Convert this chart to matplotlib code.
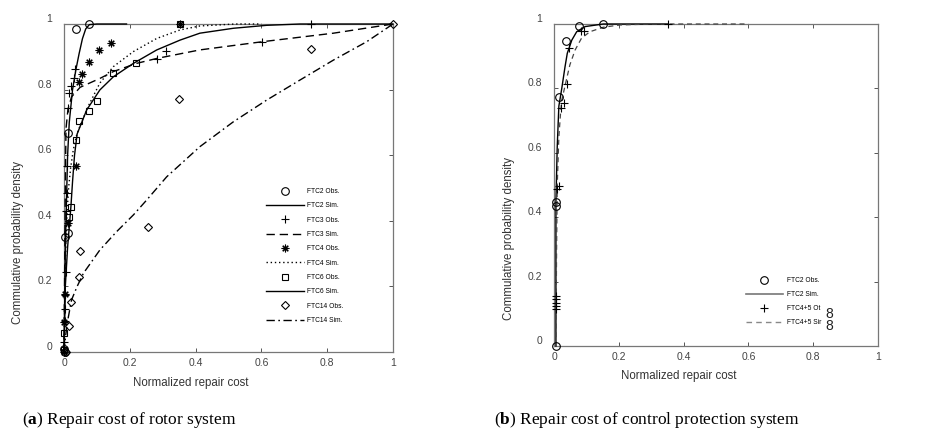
import matplotlib
matplotlib.use("Agg")
import matplotlib.pyplot as plt
from matplotlib.lines import Line2D

plt.rcParams['font.family'] = ['Liberation Sans', 'DejaVu Sans']
plt.rcParams['mathtext.fontset'] = 'custom'
plt.rcParams['mathtext.rm'] = 'Liberation Serif'
plt.rcParams['mathtext.bf'] = 'Liberation Serif:bold'

# ---------------- (a) rotor system ----------------
ftc2_obs_x = [0.000, 0.003, 0.003, 0.013, 0.013, 0.036, 0.077]
ftc2_obs_y = [0.010, 0.000, 0.352, 0.362, 0.669, 0.985, 1.000]
ftc2_sim_x = [0.000, 0.002, 0.004, 0.006, 0.011, 0.016, 0.026, 0.036, 0.046, 0.056, 0.066, 0.077, 0.100, 0.190]
ftc2_sim_y = [0.000, 0.150, 0.300, 0.400, 0.600, 0.700, 0.800, 0.860, 0.910, 0.955, 0.985, 0.998, 1.000, 1.000]

ftc3_obs_x = [0.000, 0.002, 0.003, 0.004, 0.005, 0.006, 0.008, 0.010, 0.012, 0.016, 0.021, 0.030, 0.033, 0.282, 0.309, 0.603, 0.750]
ftc3_obs_y = [0.030, 0.095, 0.130, 0.175, 0.245, 0.430, 0.486, 0.568, 0.745, 0.789, 0.810, 0.834, 0.863, 0.892, 0.919, 0.946, 1.000]
ftc3_sim_x = [0.000, 0.002, 0.004, 0.006, 0.012, 0.023, 0.049, 0.109, 0.150, 0.221, 0.282, 0.413, 0.603, 0.819, 1.000]
ftc3_sim_y = [0.000, 0.250, 0.500, 0.680, 0.740, 0.778, 0.807, 0.834, 0.855, 0.880, 0.895, 0.921, 0.946, 0.972, 1.000]

ftc4_obs_x = [0.000, 0.001, 0.003, 0.013, 0.036, 0.045, 0.055, 0.077, 0.107, 0.143, 0.353]
ftc4_obs_y = [0.000, 0.092, 0.177, 0.392, 0.568, 0.824, 0.847, 0.883, 0.921, 0.943, 1.000]
ftc4_sim_x = [0.000, 0.002, 0.005, 0.009, 0.014, 0.020, 0.028, 0.038, 0.049, 0.074, 0.109, 0.150, 0.211, 0.282, 0.353, 0.413, 0.520, 0.600]
ftc4_sim_y = [0.000, 0.150, 0.300, 0.420, 0.500, 0.560, 0.615, 0.660, 0.690, 0.750, 0.820, 0.870, 0.916, 0.956, 0.982, 0.994, 1.000, 1.000]

ftc6_obs_x = [0.000, 0.001, 0.014, 0.021, 0.036, 0.046, 0.075, 0.101, 0.150, 0.219, 0.353]
ftc6_obs_y = [0.005, 0.057, 0.413, 0.443, 0.646, 0.705, 0.735, 0.765, 0.852, 0.882, 1.000]
ftc6_sim_x = [0.000, 0.002, 0.004, 0.011, 0.021, 0.026, 0.032, 0.040, 0.069, 0.109, 0.150, 0.211, 0.282, 0.353, 0.413, 0.515, 0.616, 0.717, 1.000]
ftc6_sim_y = [0.000, 0.100, 0.200, 0.320, 0.443, 0.520, 0.600, 0.665, 0.738, 0.799, 0.839, 0.880, 0.921, 0.951, 0.972, 0.987, 0.996, 1.000, 1.000]

ftc14_obs_x = [0.006, 0.014, 0.021, 0.045, 0.050, 0.256, 0.350, 0.750, 1.000]
ftc14_obs_y = [0.000, 0.078, 0.152, 0.230, 0.308, 0.382, 0.770, 0.923, 1.000]
ftc14_sim_x = [0.000, 0.005, 0.012, 0.023, 0.040, 0.059, 0.109, 0.160, 0.211, 0.251, 0.312, 0.413, 0.515, 0.616, 0.717, 0.819, 0.920, 1.000]
ftc14_sim_y = [0.000, 0.050, 0.100, 0.159, 0.200, 0.240, 0.311, 0.367, 0.418, 0.463, 0.534, 0.626, 0.702, 0.768, 0.829, 0.890, 0.946, 1.000]

# ---------------- (b) control protection system ----------------
b_ftc2_obs_x = [0.006, 0.006, 0.006, 0.015, 0.037, 0.077, 0.152]
b_ftc2_obs_y = [0.000, 0.436, 0.448, 0.774, 0.948, 0.995, 1.000]
b_ftc2_sim_x = [0.006, 0.006, 0.010, 0.015, 0.020, 0.024, 0.034, 0.041, 0.055, 0.070, 0.096, 0.152, 0.350]
b_ftc2_sim_y = [0.000, 0.450, 0.620, 0.745, 0.775, 0.800, 0.867, 0.909, 0.950, 0.976, 0.992, 1.000, 1.000]

b_ftc45_obs_x = [0.006, 0.006, 0.006, 0.006, 0.006, 0.010, 0.015, 0.022, 0.031, 0.040, 0.046, 0.082, 0.094, 0.353]
b_ftc45_obs_y = [0.115, 0.125, 0.135, 0.145, 0.155, 0.487, 0.497, 0.738, 0.754, 0.815, 0.926, 0.977, 0.979, 1.000]
b_ftc45_sim_x = [0.006, 0.008, 0.010, 0.015, 0.020, 0.024, 0.030, 0.037, 0.049, 0.065, 0.085, 0.111, 0.152, 0.204, 0.300, 0.600]
b_ftc45_sim_y = [0.000, 0.300, 0.500, 0.650, 0.720, 0.764, 0.790, 0.821, 0.873, 0.919, 0.956, 0.976, 0.990, 0.997, 1.000, 1.000]

tick_vals = [0, 0.2, 0.4, 0.6, 0.8, 1]
tick_labels = ['0', '0.2', '0.4', '0.6', '0.8', '1']
xlabel = 'Normalized repair cost'
ylabel = 'Commulative probability density'

fig = plt.figure(figsize=(9.36, 4.41), dpi=100)
W, H = 936.0, 441.0
ax1 = fig.add_axes([64 / W, (H - 352) / H, 329 / W, 328 / H])
ax2 = fig.add_axes([554 / W, (H - 346) / H, 324 / W, 322 / H])

K = 'black'
mk = dict(linestyle='none', markerfacecolor='none', markeredgecolor=K,
          markeredgewidth=0.8, clip_on=False, zorder=4)
ln = dict(color=K, linewidth=1.0, clip_on=False, zorder=3)
STAR = (8, 2, 0)

ax1.plot(ftc2_obs_x, ftc2_obs_y, marker='o', markersize=5.5, label='FTC2 Obs.', **mk)
ax1.plot(ftc2_sim_x, ftc2_sim_y, linestyle='-', label='FTC2 Sim.', **ln)
ax1.plot(ftc3_obs_x, ftc3_obs_y, marker='+', markersize=6, label='FTC3 Obs.', **mk)
ax1.plot(ftc3_sim_x, ftc3_sim_y, linestyle=(0, (6, 3.5)), label='FTC3 Sim.', **ln)
ax1.plot(ftc4_obs_x, ftc4_obs_y, marker=STAR, markersize=5.5, label='FTC4 Obs.', **mk)
ax1.plot(ftc4_sim_x, ftc4_sim_y, linestyle=(0, (1, 2)), label='FTC4 Sim.', **ln)
ax1.plot(ftc6_obs_x, ftc6_obs_y, marker='s', markersize=4.5, label='FTC6 Obs.', **mk)
ax1.plot(ftc6_sim_x, ftc6_sim_y, linestyle='-', label='FTC6 Sim.', **ln)
ax1.plot(ftc14_obs_x, ftc14_obs_y, marker='D', markersize=4.3, label='FTC14 Obs.', **mk)
ax1.plot(ftc14_sim_x, ftc14_sim_y, linestyle=(0, (6, 2.5, 1.2, 2.5)), label='FTC14 Sim.', **ln)

ax2.plot(b_ftc2_obs_x, b_ftc2_obs_y, marker='o', markersize=5.5, **mk)
ax2.plot(b_ftc2_sim_x, b_ftc2_sim_y, linestyle='-', **ln)
ax2.plot(b_ftc45_obs_x, b_ftc45_obs_y, marker='+', markersize=6, **mk)
ax2.plot(b_ftc45_sim_x, b_ftc45_sim_y, color='#444444', linewidth=0.9,
         linestyle=(0, (4, 3)), clip_on=False, zorder=3)

for ax, ycen in ((ax1, 0.335), (ax2, 0.335)):
    ax.set_xlim(0, 1)
    ax.set_ylim(0, 1)
    ax.set_xticks(tick_vals, tick_labels)
    ax.set_yticks(tick_vals, tick_labels)
    ax.tick_params(direction='in', length=3, width=0.7, color='#555555',
                   top=True, right=True, labelsize=7.5, labelcolor='#444444')
    ax.tick_params(axis='y', pad=8.5)
    ax.tick_params(axis='x', pad=4)
    for lab in ax.get_yticklabels():
        lab.set_verticalalignment('bottom')
    for s in ax.spines.values():
        s.set_color('#777777')
        s.set_linewidth(0.9)
    ax.set_xlabel(xlabel, fontsize=8.3, color='#333333', va='center')
    ax.xaxis.set_label_coords(0.385, -0.094)
    ax.set_ylabel(ylabel, fontsize=8.3, color='#333333', va='center')
    ax.yaxis.set_label_coords(-0.14, ycen)

leg1 = ax1.legend(loc='upper left', bbox_to_anchor=(0.613, 0.50), frameon=False,
                  fontsize=4.8, handlelength=5.75, handletextpad=0.4,
                  labelspacing=1.1, borderpad=0, borderaxespad=0)

handles_b = [
    Line2D([], [], marker='o', markersize=5.5, linestyle='none',
           markerfacecolor='none', markeredgecolor=K, markeredgewidth=0.8),
    Line2D([], [], color='#777777', linewidth=1.2),
    Line2D([], [], marker='+', markersize=6, linestyle='none', markeredgecolor=K,
           markeredgewidth=0.8),
    Line2D([], [], color='#888888', linewidth=1.0, linestyle=(0, (4, 3))),
]
labels_b = ['FTC2 Obs.', 'FTC2 Sim.', 'FTC4+5 Ot', 'FTC4+5 Sir']
leg2 = ax2.legend(handles_b, labels_b, loc='upper left', bbox_to_anchor=(0.592, 0.214),
                  frameon=False, fontsize=4.8, handlelength=5.55, handletextpad=0.6,
                  labelspacing=1.05, borderpad=0, borderaxespad=0)
for yy in (0.10, 0.062):
    ax2.text(0.849, yy, '8', transform=ax2.transAxes, fontsize=10,
             ha='center', va='center', color='#222222')

fig.text(22 / W, 17 / H, r'($\mathbf{a}$) Repair cost of rotor system',
         fontsize=12.5, family='Liberation Serif', va='baseline', ha='left')
fig.text(494 / W, 17 / H, r'($\mathbf{b}$) Repair cost of control protection system',
         fontsize=12.5, family='Liberation Serif', va='baseline', ha='left')

fig.savefig('out.png', dpi=100, facecolor='white')
